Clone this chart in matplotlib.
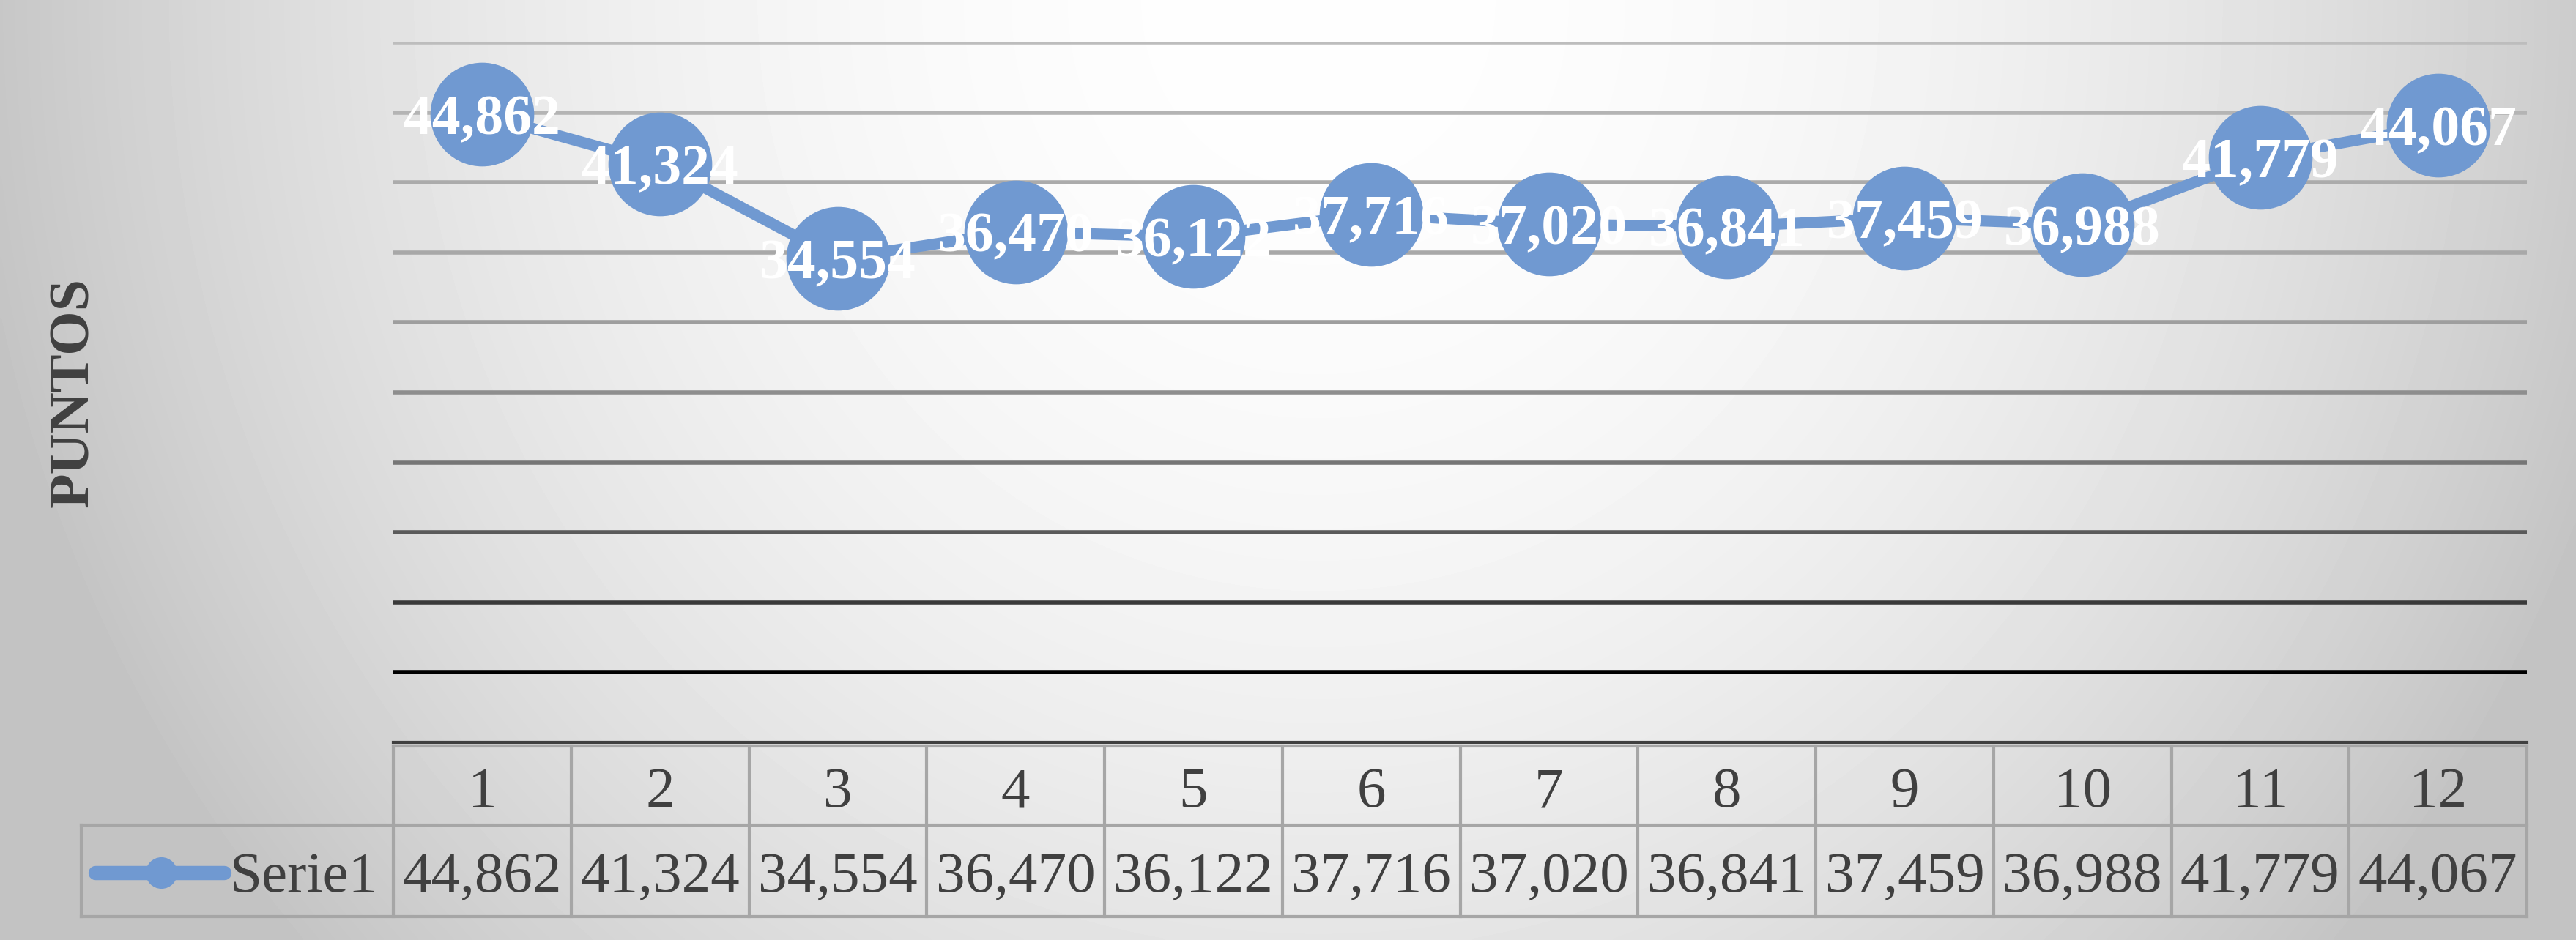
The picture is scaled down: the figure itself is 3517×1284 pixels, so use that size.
import numpy as np
import matplotlib.pyplot as plt

plt.rcParams['font.family'] = ['Liberation Serif', 'DejaVu Serif']

# datos
meses = [1, 2, 3, 4, 5, 6, 7, 8, 9, 10, 11, 12]
etiquetas = ['1', '2', '3', '4', '5', '6', '7', '8', '9', '10', '11', '12']
puntos = [44862, 41324, 34554, 36470, 36122, 37716, 37020, 36841, 37459, 36988, 41779, 44067]
serie = 'Serie1'
titulo_y = 'PUNTOS'

W, H = 3517, 1284
azul = '#7099d1'
gris_txt = '#404040'
gris_borde = '#a6a6a6'

fig = plt.figure(figsize=(W / 100, H / 100), dpi=100)

# fondo con degradado radial (gris claro en el centro superior)
bg = fig.add_axes([0, 0, 1, 1], zorder=-10)
xx, yy = np.meshgrid(np.linspace(0, W, 880), np.linspace(0, H, 321))
r = np.sqrt(((xx - 1800) / 1850) ** 2 + (yy / 1950) ** 2)
fondo = 254 - 58 * np.minimum(r, 1) ** 2
bg.imshow(fondo, cmap='gray', vmin=0, vmax=255, extent=[0, W, H, 0],
          aspect='auto', interpolation='bilinear')
bg.axis('off')

# grafico principal
ax = fig.add_axes([537 / W, (H - 1014) / H, (3450 - 537) / W, (1014 - 58) / H])
ax.set_facecolor('none')
ax.set_xlim(0.5, 12.5)
ax.set_ylim(0, 50000)

niveles = range(5000, 50001, 5000)
colores_grid = ['#000000', '#3a3a3a', '#5a5a5a', '#767676', '#8e8e8e',
                '#9e9e9e', '#a8a8a8', '#ababab', '#b4b4b4', '#bdbdbd']
for nv, c in zip(niveles, colores_grid):
    ax.axhline(nv, color=c, lw=4, zorder=1)

ax.plot(meses, puntos, color=azul, lw=11, zorder=2, solid_joinstyle='round')
ax.plot(meses, puntos, 'o', color=azul, markersize=101, zorder=3, clip_on=False)
for x, v in zip(meses, puntos):
    ax.annotate(f'{v:,}', (x, v), xytext=(0, -19.5), textcoords='offset points',
                ha='center', va='baseline', color='white', fontweight='bold',
                fontsize=56, zorder=4, annotation_clip=False)

for s in ['left', 'right', 'top']:
    ax.spines[s].set_visible(False)
ax.spines['bottom'].set_color(gris_txt)
ax.spines['bottom'].set_linewidth(3)
ax.set_xticks([])
ax.set_yticks([])

fig.text(102 / W, 1 - 536 / H, titulo_y, rotation=90, ha='center', va='center',
         fontsize=56, fontweight='bold', color=gris_txt)

# tabla de datos
tab = fig.add_axes([537 / W, (H - 1252) / H, (3450 - 537) / W, (1252 - 1014) / H])
tab.set_xlim(0.5, 12.5)
tab.set_ylim(0, 1)
tab.axis('off')
x_izq = 0.5 + (111 - 537) / 242.75
corte = (1252 - 1127) / 238
tope = (1252 - 1019) / 238

tab.plot([0.5, 12.5], [tope, tope], color=gris_borde, lw=3, clip_on=False)
tab.plot([x_izq, 12.5], [corte, corte], color=gris_borde, lw=3, clip_on=False)
tab.plot([x_izq, 12.5], [0, 0], color=gris_borde, lw=3, clip_on=False)
for i in range(13):
    tab.plot([0.5 + i, 0.5 + i], [0, tope], color=gris_borde, lw=3, clip_on=False)
tab.plot([x_izq, x_izq], [0, corte], color=gris_borde, lw=3, clip_on=False)

for x, lab, v in zip(meses, etiquetas, puntos):
    tab.text(x, 0.63, lab, ha='center', va='baseline', fontsize=57, color=gris_txt)
    tab.text(x, 0.143, f'{v:,}', ha='center', va='baseline', fontsize=57, color=gris_txt)

# clave de leyenda
px = lambda p: 0.5 + (p - 537) / 242.75
y_ley = (1252 - 1192) / 238
tab.plot([px(130), px(306)], [y_ley, y_ley], color=azul, lw=14,
         solid_capstyle='round', clip_on=False)
tab.plot([px(220)], [y_ley], 'o', color=azul, markersize=30, clip_on=False)
tab.text(px(314), 0.143, serie, ha='left', va='baseline', fontsize=57, color=gris_txt)

fig.savefig('out.png', dpi=100)
